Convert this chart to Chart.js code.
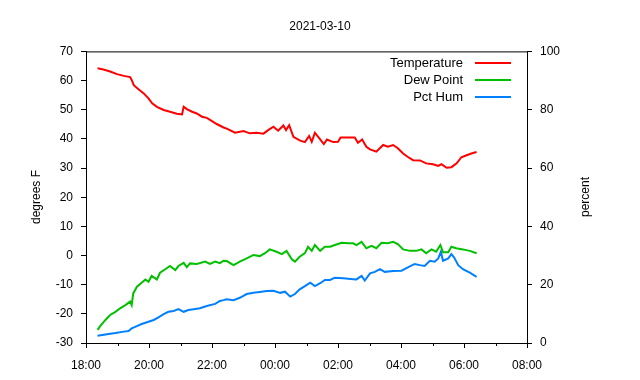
<!DOCTYPE html>
<html>
<head>
<meta charset="utf-8">
<script src="https://cdn.jsdelivr.net/npm/chart.js@4"></script>
<style>
  html, body { margin: 0; padding: 0; background: #fff; }
  #wrap { width: 640px; height: 380px; }
</style>
</head>
<body>
<div id="wrap"><canvas id="weatherChart" width="640" height="380"></canvas></div>
<script>
// --- Data ---
const chartTitle = '2021-03-10';
const xTickLabels = ['18:00', '20:00', '22:00', '00:00', '02:00', '04:00', '06:00', '08:00'];
const leftTicks = [-30, -20, -10, 0, 10, 20, 30, 40, 50, 60, 70];
const rightTicks = [0, 20, 40, 60, 80, 100];

const tempTimes = ['18:22','18:33','18:46','18:59','19:12','19:24','19:27','19:31','19:40','19:50','19:59','20:06','20:15','20:28','20:40','20:53','21:03','21:06','21:12','21:22','21:31','21:41','21:50','22:00','22:09','22:22','22:28','22:44','23:00','23:12','23:25','23:38','23:47','23:57','00:06','00:16','00:21','00:27','00:35','00:48','00:57','01:05','01:10','01:16','01:26','01:33','01:39','01:51','02:00','02:05','02:29','02:32','02:38','02:46','02:54','03:01','03:13','03:26','03:35','03:45','03:54','04:04','04:14','04:23','04:36','04:48','05:01','05:11','05:17','05:27','05:36','05:46','05:55','06:05','06:14','06:24'];
const tempValues = [64.2,63.8,63.1,62.2,61.6,61.2,60.2,58.4,57.0,55.6,53.9,52.2,51.0,49.9,49.3,48.6,48.4,51.0,50.2,49.3,48.7,47.6,47.2,46.1,45.1,43.9,43.5,42.1,42.7,41.9,42.1,41.8,43.0,44.2,42.8,44.6,43.0,44.7,40.7,39.4,38.9,41.0,39.0,42.1,39.8,38.2,39.8,38.9,39.0,40.5,40.5,40.5,38.7,39.8,37.3,36.4,35.6,37.9,37.3,37.9,36.8,35.0,33.7,32.7,32.6,31.6,31.3,30.7,31.3,30.1,30.3,31.6,33.7,34.4,35.0,35.5];

const dewTimes = ['18:22','18:27','18:37','18:46','18:56','19:05','19:15','19:24','19:27','19:30','19:37','19:46','19:53','19:59','20:05','20:15','20:21','20:31','20:40','20:50','20:56','21:06','21:12','21:18','21:31','21:47','21:56','22:06','22:15','22:22','22:28','22:41','22:53','23:06','23:19','23:31','23:41','23:50','00:03','00:13','00:22','00:32','00:38','00:47','00:57','01:03','01:10','01:16','01:26','01:35','01:45','01:54','02:07','02:19','02:29','02:35','02:45','02:54','03:04','03:13','03:23','03:35','03:45','03:54','04:04','04:17','04:29','04:39','04:48','04:58','05:07','05:15','05:20','05:30','05:36','05:45','05:58','06:11','06:24'];
const dewValues = [-25.5,-24.2,-22.1,-20.4,-19.3,-18.1,-17.0,-15.8,-17.0,-13.0,-10.7,-9.3,-8.2,-9.0,-7.0,-8.2,-5.9,-4.7,-3.6,-5.0,-3.6,-2.5,-4.0,-2.7,-2.9,-2.1,-2.9,-2.1,-2.6,-1.8,-1.9,-3.3,-2.1,-1.0,0.2,-0.2,0.8,2.1,1.3,0.5,1.6,-1.3,-2.1,-0.4,0.8,3.0,1.6,3.6,1.6,3.0,3.0,3.6,4.4,4.2,4.2,3.6,4.7,2.5,3.3,2.5,4.4,4.2,4.7,3.9,2.1,1.6,1.6,2.1,0.8,2.1,1.3,3.6,1.1,1.1,3.0,2.5,2.1,1.6,0.8];

const humTimes = ['18:22','18:40','18:56','19:12','19:21','19:27','19:37','19:46','19:59','20:09','20:18','20:28','20:37','20:47','20:56','21:06','21:15','21:25','21:37','21:50','22:06','22:15','22:22','22:28','22:41','22:53','23:06','23:19','23:31','23:44','23:57','00:10','00:19','00:29','00:38','00:47','00:57','01:07','01:16','01:26','01:35','01:45','01:54','02:10','02:29','02:35','02:45','02:51','03:01','03:10','03:20','03:29','03:45','04:01','04:14','04:26','04:36','04:45','04:55','05:04','05:11','05:16','05:20','05:30','05:36','05:41','05:49','05:58','06:11','06:24'];
const humValues = [2.5,3.0,3.4,3.9,4.1,5.0,5.8,6.5,7.3,7.9,8.8,9.9,10.7,11.0,11.6,10.7,11.3,11.6,11.9,12.7,13.4,14.4,14.7,15.0,14.7,15.5,16.8,17.2,17.5,17.8,17.9,17.2,17.6,15.9,16.8,18.4,19.5,20.7,19.5,20.5,21.6,21.6,22.4,22.2,21.9,21.8,23.0,21.4,23.9,24.4,25.3,24.4,24.7,24.8,26.0,27.1,26.7,26.4,28.2,27.9,29.0,31.3,28.2,29.0,30.5,29.4,26.7,25.3,24.1,22.7];

// hours since 18:00 (times after midnight roll over)
function toHours(t) {
    const [h, m] = t.split(':').map(Number);
    return ((h - 18 + 24) % 24) + m / 60;
}
function toPoints(times, values) {
    return times.map((t, i) => ({ x: toHours(t), y: values[i] }));
}

const FONT = { family: '"Liberation Sans", Arial, sans-serif', size: 12, weight: 'normal' };

// frame, minor ticks, legend and axis titles in gnuplot style
const extras = {
    id: 'extras',
    afterDraw(chart) {
        const c = chart.ctx;
        const a = chart.chartArea;
        const xs = chart.scales.x;
        c.save();
        c.strokeStyle = '#000';
        c.lineWidth = 1;
        c.beginPath();
        c.moveTo(a.left, a.top + 0.5);
        c.lineTo(a.right, a.top + 0.5);
        // short ticks on the odd hours
        for (let h = 1; h < 14; h += 2) {
            const px = Math.round(xs.getPixelForValue(h)) + 0.5;
            c.moveTo(px, a.bottom);
            c.lineTo(px, a.bottom + 3);
        }
        c.stroke();

        c.font = '13px "Liberation Sans", Arial, sans-serif';
        c.fillStyle = '#000';
        c.textAlign = 'right';
        c.textBaseline = 'middle';
        chart.data.datasets.forEach((ds, i) => {
            const y = 63 + i * 17;
            c.fillText(ds.label, 463, y);
            c.strokeStyle = ds.borderColor;
            c.lineWidth = 2;
            c.beginPath();
            c.moveTo(475, y);
            c.lineTo(511, y);
            c.stroke();
        });

        c.font = '12px "Liberation Sans", Arial, sans-serif';
        c.textAlign = 'center';
        c.textBaseline = 'alphabetic';
        c.save();
        c.translate(40, 197);
        c.rotate(-Math.PI / 2);
        c.fillText('degrees F', 0, 0);
        c.restore();
        c.save();
        c.translate(589, 197);
        c.rotate(-Math.PI / 2);
        c.fillText('percent', 0, 0);
        c.restore();
        c.restore();
    }
};

const axisGrid = { display: true, drawOnChartArea: false, drawTicks: true, tickLength: 5, color: '#000' };
const axisBorder = { display: true, color: '#000', width: 1 };

new Chart(document.getElementById('weatherChart'), {
    type: 'line',
    data: {
        datasets: [{
            label: 'Temperature',
            data: toPoints(tempTimes, tempValues),
            borderColor: '#ff0000',
            yAxisID: 'y'
        }, {
            label: 'Dew Point',
            data: toPoints(dewTimes, dewValues),
            borderColor: '#00c000',
            yAxisID: 'y'
        }, {
            label: 'Pct Hum',
            data: toPoints(humTimes, humValues),
            borderColor: '#0080ff',
            yAxisID: 'y1'
        }]
    },
    options: {
        responsive: false,
        animation: false,
        events: [],
        layout: { padding: 0 },
        elements: {
            point: { radius: 0 },
            line: { borderWidth: 2, tension: 0, fill: false }
        },
        plugins: {
            legend: { display: false },
            tooltip: { enabled: false },
            title: {
                display: true,
                text: chartTitle,
                color: '#000',
                font: FONT,
                padding: { top: 19, bottom: 18 }
            }
        },
        scales: {
            x: {
                type: 'linear',
                min: 0,
                max: 14,
                grid: {
                    ...axisGrid,
                    tickColor: ctx => (ctx.tick && ctx.tick.value % 2 === 1 ? 'rgba(0,0,0,0)' : '#000')
                },
                border: axisBorder,
                afterFit: s => { s.height = 37; },
                afterBuildTicks: s => { s.ticks = Array.from({ length: 15 }, (_, i) => ({ value: i })); },
                ticks: {
                    color: '#000',
                    font: FONT,
                    padding: 10,
                    maxRotation: 0,
                    autoSkip: false,
                    callback: v => (v % 2 === 0 ? xTickLabels[v / 2] : '')
                }
            },
            y: {
                position: 'left',
                min: -30,
                max: 70,
                grid: axisGrid,
                border: axisBorder,
                afterFit: s => { s.width = 86; },
                afterBuildTicks: s => { s.ticks = leftTicks.map(v => ({ value: v })); },
                ticks: { color: '#000', font: FONT, padding: 8 }
            },
            y1: {
                position: 'right',
                min: 0,
                max: 100,
                grid: axisGrid,
                border: axisBorder,
                afterFit: s => { s.width = 113; },
                afterBuildTicks: s => { s.ticks = rightTicks.map(v => ({ value: v })); },
                ticks: { color: '#000', font: FONT, padding: 8 }
            }
        }
    },
    plugins: [extras]
});
</script>
</body>
</html>
